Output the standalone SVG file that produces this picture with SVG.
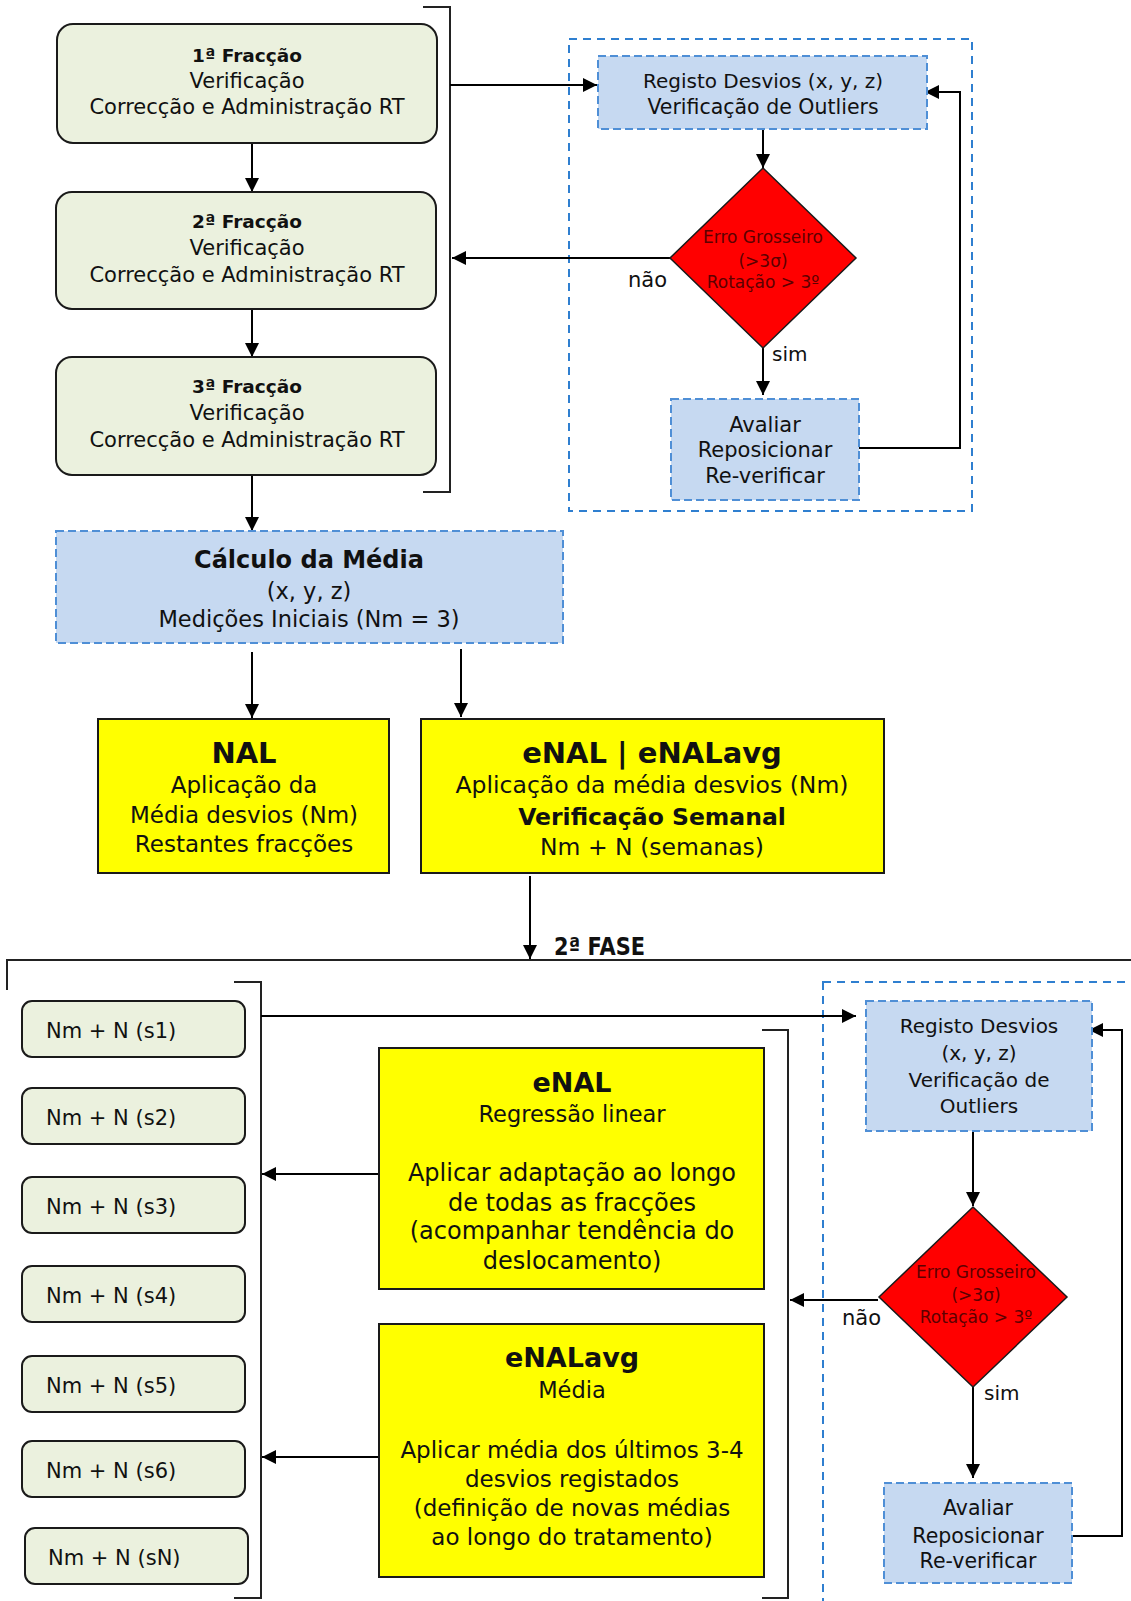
<svg xmlns="http://www.w3.org/2000/svg" width="1131" height="1601" viewBox="0 0 1131 1601">
  <defs>
    <style>
      .t { font-family: "DejaVu Sans", "Liberation Sans", sans-serif; fill: #111; text-anchor: middle; }
      .l { text-anchor: start; }
      .e { text-anchor: end; }
      .b { font-weight: bold; }
      .green { fill: #ebf1de; stroke: #1a1a1a; stroke-width: 2; }
      .yellow { fill: #ffff00; stroke: #1a1a1a; stroke-width: 2; }
      .blue { fill: #c6d9f1; stroke: #4f8fd6; stroke-width: 2; stroke-dasharray: 8 4; }
      .frame { fill: none; stroke: #2f7fd0; stroke-width: 2; stroke-dasharray: 8 6; }
      .dia { fill: #ff0000; stroke: #1a1a1a; stroke-width: 1.5; }
      .dt { fill: #5c0000; font-size: 17px; }
      .conn { fill: none; stroke: #000; stroke-width: 2; }
      .arr { marker-end: url(#ah); }
      .brk { fill: none; stroke: #222; stroke-width: 2; }
    </style>
    <marker id="ah" viewBox="0 0 14 14" markerWidth="14" markerHeight="14" markerUnits="userSpaceOnUse" refX="14" refY="7" orient="auto">
      <path d="M0,0 L14,7 L0,14 Z" fill="#000"/>
    </marker>
  </defs>

  <rect x="0" y="0" width="1131" height="1601" fill="#fff"/>

  <!-- dashed frames around the verification loops -->
  <rect id="loop1-frame" class="frame" x="569" y="39" width="403" height="472"/>
  <rect id="loop2-frame" class="frame" x="823" y="982" width="340" height="700"/>

  <!-- brackets and phase separator -->
  <g id="brackets">
    <path class="brk" d="M423,7 H450 V492 H423"/>
    <path class="brk" d="M7,990 V960 H1131"/>
    <path class="brk" d="M234,982 H261 V1598 H234"/>
    <path class="brk" d="M762,1030 H788 V1598 H762"/>
  </g>

  <!-- connectors -->
  <g id="connectors">
    <line class="conn arr" x1="252" y1="143" x2="252" y2="192"/>
    <line class="conn arr" x1="252" y1="309" x2="252" y2="357"/>
    <line class="conn arr" x1="252" y1="475" x2="252" y2="531"/>
    <line class="conn arr" x1="450" y1="85" x2="597" y2="85"/>
    <line class="conn arr" x1="763" y1="129" x2="763" y2="168"/>
    <line class="conn arr" x1="670" y1="258" x2="452" y2="258"/>
    <line class="conn arr" x1="763" y1="348" x2="763" y2="395"/>
    <polyline class="conn arr" points="859,448 960,448 960,92 925,92"/>
    <line class="conn arr" x1="252" y1="652" x2="252" y2="718"/>
    <line class="conn arr" x1="461" y1="649" x2="461" y2="717"/>
    <line class="conn arr" x1="530" y1="876" x2="530" y2="959"/>
    <line class="conn arr" x1="261" y1="1016" x2="856" y2="1016"/>
    <line class="conn arr" x1="379" y1="1174" x2="262" y2="1174"/>
    <line class="conn arr" x1="379" y1="1457" x2="262" y2="1457"/>
    <line class="conn arr" x1="973" y1="1131" x2="973" y2="1206"/>
    <line class="conn arr" x1="878" y1="1300" x2="790" y2="1300"/>
    <line class="conn arr" x1="973" y1="1387" x2="973" y2="1478"/>
    <polyline class="conn arr" points="1072,1536 1122,1536 1122,1030 1089,1030"/>
  </g>

  <!-- phase 1: fractions -->
  <g id="fraccao1">
    <rect class="green" x="57" y="24" width="380" height="119" rx="16"/>
    <text class="t b" x="247" y="62" font-size="18.5">1ª Fracção</text>
    <text class="t" x="247" y="88" font-size="21">Verificação</text>
    <text class="t" x="247" y="114" font-size="21">Correcção e Administração RT</text>
  </g>
  <g id="fraccao2">
    <rect class="green" x="56" y="192" width="380" height="117" rx="16"/>
    <text class="t b" x="247" y="228" font-size="18.5">2ª Fracção</text>
    <text class="t" x="247" y="255" font-size="21">Verificação</text>
    <text class="t" x="247" y="282" font-size="21">Correcção e Administração RT</text>
  </g>
  <g id="fraccao3">
    <rect class="green" x="56" y="357" width="380" height="118" rx="16"/>
    <text class="t b" x="247" y="393" font-size="18.5">3ª Fracção</text>
    <text class="t" x="247" y="420" font-size="21">Verificação</text>
    <text class="t" x="247" y="447" font-size="21">Correcção e Administração RT</text>
  </g>

  <!-- phase 1: verification loop -->
  <g id="registo1">
    <rect class="blue" x="598" y="56" width="329" height="73"/>
    <text class="t" x="763" y="88" font-size="20">Registo Desvios (x, y, z)</text>
    <text class="t" x="763" y="114" font-size="20.5">Verificação de Outliers</text>
  </g>
  <g id="decisao1">
    <polygon class="dia" points="763,168 856,258 763,348 670,258"/>
    <text class="t dt" x="763" y="243">Erro Grosseiro</text>
    <text class="t dt" x="763" y="267">(&gt;3σ)</text>
    <text class="t dt" x="763" y="288">Rotação &gt; 3º</text>
  </g>
  <text class="t e" x="667" y="287" font-size="21">não</text>
  <text class="t l" x="772" y="361" font-size="20">sim</text>
  <g id="avaliar1">
    <rect class="blue" x="671" y="399" width="188" height="101"/>
    <text class="t" x="765" y="432" font-size="21">Avaliar</text>
    <text class="t" x="765" y="457" font-size="21">Reposicionar</text>
    <text class="t" x="765" y="483" font-size="21">Re-verificar</text>
  </g>

  <!-- mean of initial measurements -->
  <g id="calculo">
    <rect class="blue" x="56" y="531" width="507" height="112"/>
    <text class="t b" x="309" y="568" font-size="24">Cálculo da Média</text>
    <text class="t" x="309" y="599" font-size="22.5">(x, y, z)</text>
    <text class="t" x="309" y="627" font-size="22.5">Medições Iniciais (Nm = 3)</text>
  </g>

  <!-- protocols -->
  <g id="nal">
    <rect class="yellow" x="98" y="719" width="291" height="154"/>
    <text class="t b" x="244" y="763" font-size="29">NAL</text>
    <text class="t" x="244" y="793" font-size="23">Aplicação da</text>
    <text class="t" x="244" y="823" font-size="23">Média desvios (Nm)</text>
    <text class="t" x="244" y="852" font-size="23">Restantes fracções</text>
  </g>
  <g id="enal-enalavg">
    <rect class="yellow" x="421" y="719" width="463" height="154"/>
    <text class="t b" x="652" y="763" font-size="29">eNAL | eNALavg</text>
    <text class="t" x="652" y="793" font-size="23.5">Aplicação da média desvios (Nm)</text>
    <text class="t b" x="652" y="825" font-size="23.5">Verificação Semanal</text>
    <text class="t" x="652" y="855" font-size="23.5">Nm + N (semanas)</text>
  </g>

  <text class="t l b" x="554" y="955" font-size="25" textLength="91" lengthAdjust="spacingAndGlyphs">2ª FASE</text>

  <!-- phase 2: weekly checks -->
  <g id="s1"><rect class="green" x="22" y="1001" width="223" height="56" rx="10"/><text class="t l" x="46" y="1037.5" font-size="21">Nm + N (s1)</text></g>
  <g id="s2"><rect class="green" x="22" y="1088" width="223" height="56" rx="10"/><text class="t l" x="46" y="1124.5" font-size="21">Nm + N (s2)</text></g>
  <g id="s3"><rect class="green" x="22" y="1177" width="223" height="56" rx="10"/><text class="t l" x="46" y="1213.5" font-size="21">Nm + N (s3)</text></g>
  <g id="s4"><rect class="green" x="22" y="1266" width="223" height="56" rx="10"/><text class="t l" x="46" y="1302.5" font-size="21">Nm + N (s4)</text></g>
  <g id="s5"><rect class="green" x="22" y="1356" width="223" height="56" rx="10"/><text class="t l" x="46" y="1392.5" font-size="21">Nm + N (s5)</text></g>
  <g id="s6"><rect class="green" x="22" y="1441" width="223" height="56" rx="10"/><text class="t l" x="46" y="1477.5" font-size="21">Nm + N (s6)</text></g>
  <g id="sN"><rect class="green" x="25" y="1528" width="223" height="56" rx="10"/><text class="t l" x="48" y="1564.5" font-size="21">Nm + N (sN)</text></g>

  <g id="enal">
    <rect class="yellow" x="379" y="1048" width="385" height="241"/>
    <text class="t b" x="572" y="1092" font-size="27">eNAL</text>
    <text class="t" x="572" y="1122" font-size="22.5">Regressão linear</text>
    <text class="t" x="572" y="1181" font-size="24">Aplicar adaptação ao longo</text>
    <text class="t" x="572" y="1211" font-size="24">de todas as fracções</text>
    <text class="t" x="572" y="1239" font-size="24">(acompanhar tendência do</text>
    <text class="t" x="572" y="1269" font-size="24">deslocamento)</text>
  </g>
  <g id="enalavg">
    <rect class="yellow" x="379" y="1324" width="385" height="253"/>
    <text class="t b" x="572" y="1367" font-size="27">eNALavg</text>
    <text class="t" x="572" y="1398" font-size="22.5">Média</text>
    <text class="t" x="572" y="1458" font-size="23">Aplicar média dos últimos 3-4</text>
    <text class="t" x="572" y="1487" font-size="23">desvios registados</text>
    <text class="t" x="572" y="1516" font-size="23">(definição de novas médias</text>
    <text class="t" x="572" y="1545" font-size="23">ao longo do tratamento)</text>
  </g>

  <!-- phase 2: verification loop -->
  <g id="registo2">
    <rect class="blue" x="866" y="1001" width="226" height="130"/>
    <text class="t" x="979" y="1033" font-size="20">Registo Desvios</text>
    <text class="t" x="979" y="1060" font-size="20">(x, y, z)</text>
    <text class="t" x="979" y="1087" font-size="20">Verificação de</text>
    <text class="t" x="979" y="1113" font-size="20">Outliers</text>
  </g>
  <g id="decisao2">
    <polygon class="dia" points="973,1207 1067,1297 973,1387 879,1297"/>
    <text class="t dt" x="976" y="1278">Erro Grosseiro</text>
    <text class="t dt" x="976" y="1301">(&gt;3σ)</text>
    <text class="t dt" x="976" y="1323">Rotação &gt; 3º</text>
  </g>
  <text class="t e" x="881" y="1325" font-size="21">não</text>
  <text class="t l" x="984" y="1400" font-size="20">sim</text>
  <g id="avaliar2">
    <rect class="blue" x="884" y="1483" width="188" height="100"/>
    <text class="t" x="978" y="1515" font-size="20.5">Avaliar</text>
    <text class="t" x="978" y="1543" font-size="20.5">Reposicionar</text>
    <text class="t" x="978" y="1568" font-size="20.5">Re-verificar</text>
  </g>
</svg>
